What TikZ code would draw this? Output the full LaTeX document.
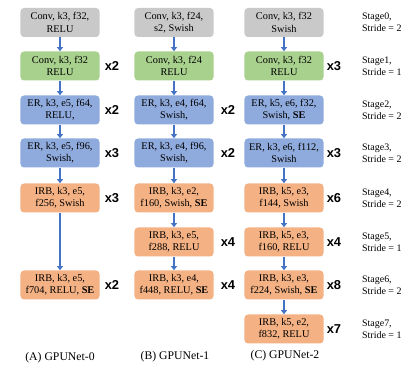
\documentclass[tikz,border=0pt]{standalone}
\usepackage{fontspec}
\setmainfont{Liberation Serif}
\newfontfamily\labelfont{Liberation Sans}
\usetikzlibrary{arrows.meta}
\definecolor{convgray}{HTML}{C9C9C9}
\definecolor{convgreen}{HTML}{A9D18E}
\definecolor{erblue}{HTML}{8FAADC}
\definecolor{irborange}{HTML}{F4B183}
\definecolor{arrowblue}{HTML}{4472C4}
\begin{document}
\begin{tikzpicture}[x=0.03cm,y=-0.03cm,
  blk/.style={rounded corners=3pt,minimum width=2.37cm,minimum height=0.87cm,
    inner sep=0pt,align=center,font=\fontsize{8.8}{10.5}\selectfont},
  stembox/.style={blk,fill=convgray},
  convbox/.style={blk,fill=convgreen},
  erbox/.style={blk,fill=erblue},
  irbbox/.style={blk,fill=irborange},
  rep/.style={font=\labelfont\bfseries\fontsize{11}{12}\selectfont},
  stage/.style={anchor=west,align=left,font=\fontsize{8.5}{10.5}\selectfont},
  netname/.style={font=\fontsize{10}{11}\selectfont},
  flow/.style={arrowblue,line width=1.5pt,-{Triangle[length=3.5pt,width=5pt]}}]
\useasboundingbox (0,0) rectangle (408,372);
% (A) GPUNet-0
\node (a0) at (60,22.5) [stembox] {Conv, k3, f32,\\RELU};
\node (a1) at (60,66) [convbox] {Conv, k3, f32\\RELU};
\node (a2) at (60,110) [erbox] {ER, k3, e5, f64,\\RELU,};
\node (a3) at (60,153) [erbox] {ER, k3, e5, f96,\\Swish,};
\node (a4) at (60,198) [irbbox] {IRB, k3, e5,\\f256, Swish};
\node (a6) at (60,285) [irbbox] {IRB, k3, e5,\\f704, RELU, \textbf{SE}};
\node (ra1) at (112,66) [rep] {x2};
\node (ra2) at (112,110) [rep] {x2};
\node (ra3) at (112,153) [rep] {x3};
\node (ra4) at (112,198) [rep] {x3};
\node (ra6) at (112,285) [rep] {x2};
\draw [flow] (a0) -- (a1);
\draw [flow] (a1) -- (a2);
\draw [flow] (a2) -- (a3);
\draw [flow] (a3) -- (a4);
\draw [flow] (a4) -- (a6);
\node (capa) at (60,358) [netname] {(A) GPUNet-0};
% (B) GPUNet-1
\node (b0) at (174,22.5) [stembox] {Conv, k3, f24,\\s2, Swish};
\node (b1) at (174,66) [convbox] {Conv, k3, f24\\RELU};
\node (b2) at (174,110) [erbox] {ER, k3, e4, f64,\\Swish,};
\node (b3) at (174,153) [erbox] {ER, k3, e4, f96,\\Swish,};
\node (b4) at (174,198) [irbbox] {IRB, k3, e2,\\f160, Swish, \textbf{SE}};
\node (b5) at (174,242) [irbbox] {IRB, k3, e5,\\f288, RELU};
\node (b6) at (174,285) [irbbox] {IRB, k3, e4,\\f448, RELU, \textbf{SE}};
\node (rb2) at (228,110) [rep] {x2};
\node (rb3) at (228,153) [rep] {x2};
\node (rb5) at (228,242) [rep] {x4};
\node (rb6) at (228,285) [rep] {x4};
\draw [flow] (b0) -- (b1);
\draw [flow] (b1) -- (b2);
\draw [flow] (b2) -- (b3);
\draw [flow] (b3) -- (b4);
\draw [flow] (b4) -- (b5);
\draw [flow] (b5) -- (b6);
\node (capb) at (175,357) [netname] {(B) GPUNet-1};
% (C) GPUNet-2
\node (c0) at (284,22.5) [stembox] {Conv, k3, f32\\Swish};
\node (c1) at (284,66) [convbox] {Conv, k3, f32\\RELU};
\node (c2) at (284,110) [erbox] {ER, k5, e6, f32,\\Swish, \textbf{SE}};
\node (c3) at (284,153) [erbox] {ER, k3, e6, f112,\\Swish};
\node (c4) at (284,198) [irbbox] {IRB, k5, e3,\\f144, Swish};
\node (c5) at (284,242) [irbbox] {IRB, k5, e3,\\f160, RELU};
\node (c6) at (284,285) [irbbox] {IRB, k3, e3,\\f224, Swish, \textbf{SE}};
\node (c7) at (284,329) [irbbox] {IRB, k5, e2,\\f832, RELU};
\node (rc1) at (334,66) [rep] {x3};
\node (rc3) at (334,153) [rep] {x3};
\node (rc4) at (334,198) [rep] {x6};
\node (rc5) at (334,242) [rep] {x4};
\node (rc6) at (334,285) [rep] {x8};
\node (rc7) at (334,329) [rep] {x7};
\draw [flow] (c0) -- (c1);
\draw [flow] (c1) -- (c2);
\draw [flow] (c2) -- (c3);
\draw [flow] (c3) -- (c4);
\draw [flow] (c4) -- (c5);
\draw [flow] (c5) -- (c6);
\draw [flow] (c6) -- (c7);
\node (capc) at (285,356) [netname] {(C) GPUNet-2};
% stages
\node (s0) at (358,22.5) [stage] {Stage0,\\Stride = 2};
\node (s1) at (358,66) [stage] {Stage1,\\Stride = 1};
\node (s2) at (358,110) [stage] {Stage2,\\Stride = 2};
\node (s3) at (358,153) [stage] {Stage3,\\Stride = 2};
\node (s4) at (358,198) [stage] {Stage4,\\Stride = 2};
\node (s5) at (358,242) [stage] {Stage5,\\Stride = 1};
\node (s6) at (358,285) [stage] {Stage6,\\Stride = 2};
\node (s7) at (358,329) [stage] {Stage7,\\Stride = 1};
\end{tikzpicture}
\end{document}
